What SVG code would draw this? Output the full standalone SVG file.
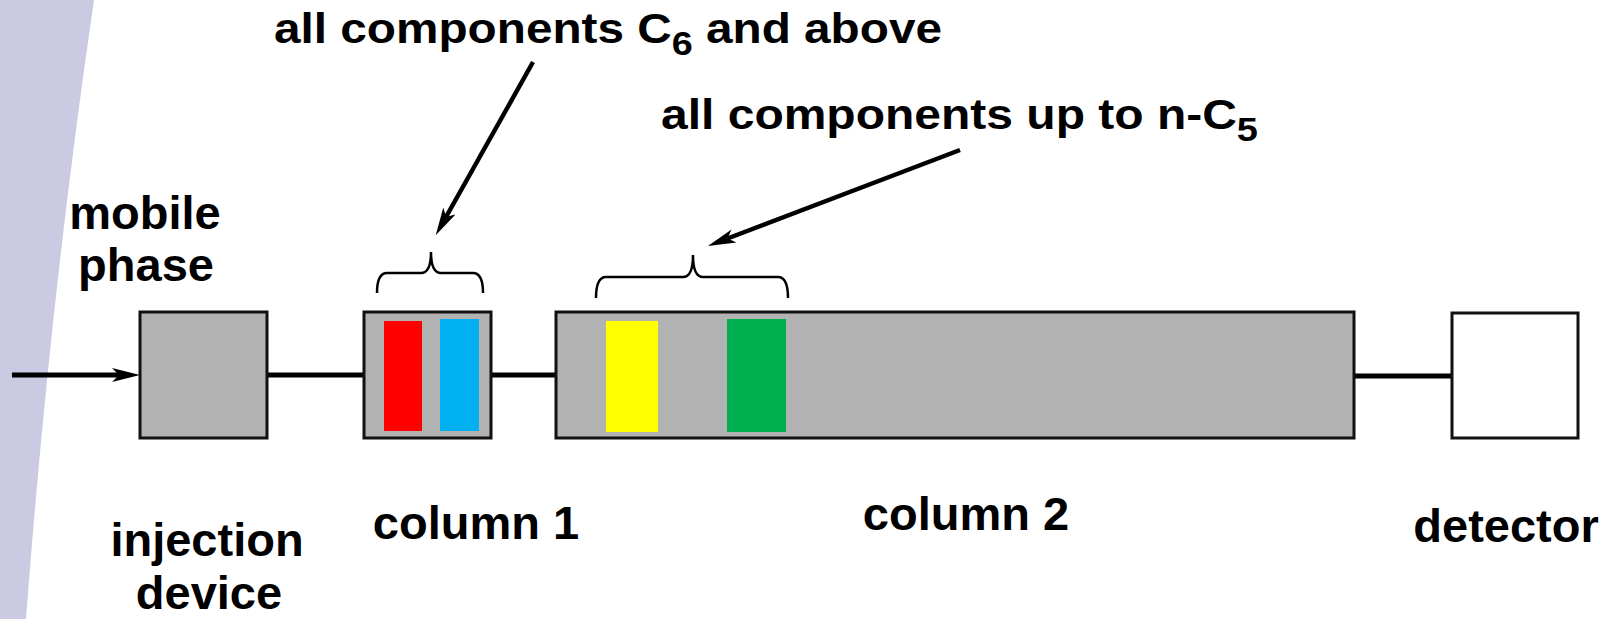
<svg xmlns="http://www.w3.org/2000/svg" width="1619" height="619" viewBox="0 0 1619 619">
<style>
  text { font-family: "Liberation Sans", Arial, sans-serif; font-weight: bold; fill: #000; }
  .lbl { font-size: 47px; text-anchor: middle; }
  .top { font-size: 43px; }
  .box { fill: #B2B2B2; stroke: #111; stroke-width: 3; }
  .wire { stroke: #000; stroke-width: 5; fill: none; }
  .ptr { stroke: #000; stroke-width: 4.5; fill: none; }
  .brace { stroke: #000; stroke-width: 2.5; fill: none; }
</style>
<defs>
  <marker id="ah" viewBox="0 0 20 10" refX="5" refY="5" markerUnits="userSpaceOnUse" markerWidth="28" markerHeight="14" orient="auto">
    <path d="M0,0 L20,5 L0,10 L5,5 z" fill="#000"/>
  </marker>
</defs>
<rect width="1619" height="619" fill="#fff"/>
<path d="M0,0 L94,0 Q50,300 26,619 L0,619 z" fill="#CBCAE3"/>

<g id="connectors">
  <line class="wire" x1="12" y1="375" x2="119" y2="375" marker-end="url(#ah)"/>
  <line class="wire" x1="267" y1="375" x2="364" y2="375"/>
  <line class="wire" x1="491" y1="375" x2="556" y2="375"/>
  <line class="wire" x1="1354" y1="376" x2="1452" y2="376"/>
  <line class="ptr" x1="533" y1="62" x2="446" y2="217" marker-end="url(#ah)"/>
  <line class="ptr" x1="960" y1="150" x2="727.5" y2="238.5" marker-end="url(#ah)"/>
</g>

<g id="injection">
  <rect class="box" x="140" y="312" width="127" height="126"/>
  <text class="lbl" x="207" y="556">injection</text>
  <text class="lbl" x="209" y="609">device</text>
</g>

<g id="mobile-phase">
  <text class="lbl" x="145" y="229">mobile</text>
  <text class="lbl" x="146" y="281">phase</text>
</g>

<g id="column1">
  <rect class="box" x="364" y="312" width="127" height="126"/>
  <rect x="384" y="321" width="38" height="110" fill="#FF0000"/>
  <rect x="440" y="319" width="39" height="112" fill="#00B0F0"/>
  <text class="lbl" x="476" y="539">column 1</text>
</g>

<g id="column2">
  <rect class="box" x="556" y="312" width="798" height="126"/>
  <rect x="606" y="321" width="52" height="111" fill="#FFFF00"/>
  <rect x="727" y="319" width="59" height="113" fill="#00B050"/>
  <text class="lbl" x="966" y="530">column 2</text>
</g>

<g id="detector">
  <rect x="1452" y="313" width="126" height="125" fill="#fff" stroke="#111" stroke-width="3"/>
  <text class="lbl" x="1506" y="542">detector</text>
</g>

<g id="brace1">
  <path class="brace" d="M377,293 Q377,273 387,273 L421,273 Q431,273 431,252 Q431,273 441,273 L473,273 Q483,273 483,293"/>
</g>
<g id="brace2">
  <path class="brace" d="M596,298 Q596,277 606,277 L683,277 Q693,277 693,255 Q693,277 703,277 L778,277 Q788,277 788,298"/>
</g>

<g id="label-c6">
  <text class="top" x="274" y="43" textLength="668" lengthAdjust="spacingAndGlyphs">all components C<tspan font-size="34" dy="12">6</tspan><tspan dy="-12"> and above</tspan></text>
</g>
<g id="label-c5">
  <text class="top" x="661" y="129" textLength="597" lengthAdjust="spacingAndGlyphs">all components up to n-C<tspan font-size="34" dy="12">5</tspan></text>
</g>
</svg>
